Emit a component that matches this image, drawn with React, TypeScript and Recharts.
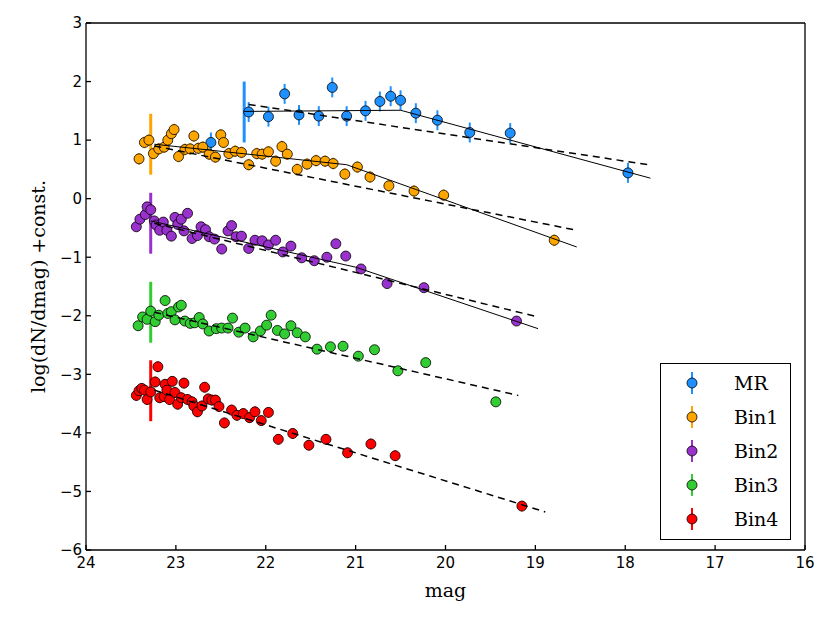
import { ComposedChart, Scatter, XAxis, YAxis, ErrorBar, Legend } from 'recharts';

// tick values
const magTicks = [16, 17, 18, 19, 20, 21, 22, 23, 24];
const logTicks = [-6, -5, -4, -3, -2, -1, 0, 1, 2, 3];

// measured counts, [mag, log(dN/dmag)+const]
const mrPoints = [
  [22.19, 1.48], [22.61, 0.96], [21.97, 1.4], [21.79, 1.79], [21.63, 1.43], [21.41, 1.41],
  [21.26, 1.9], [21.1, 1.41], [20.89, 1.5], [20.73, 1.66], [20.61, 1.75], [20.5, 1.68],
  [20.33, 1.46], [20.09, 1.34], [19.73, 1.13], [19.28, 1.12], [17.97, 0.44],
];
const bin1Points = [
  [23.41, 0.68], [23.35, 0.96], [23.3, 1.0], [23.25, 0.77], [23.19, 0.85], [23.13, 0.88],
  [23.09, 1.0], [23.05, 1.11], [23.02, 1.18], [22.97, 0.72], [22.9, 0.84], [22.84, 0.85],
  [22.8, 1.07], [22.75, 0.86], [22.7, 0.88], [22.63, 0.76], [22.56, 0.71], [22.5, 1.09],
  [22.47, 0.96], [22.41, 0.77], [22.34, 0.81], [22.27, 0.79], [22.19, 0.58], [22.1, 0.77],
  [22.04, 0.76], [21.97, 0.8], [21.89, 0.64], [21.82, 0.89], [21.76, 0.76], [21.65, 0.5],
  [21.54, 0.59], [21.44, 0.65], [21.34, 0.64], [21.25, 0.6], [21.12, 0.42], [20.98, 0.54],
  [20.84, 0.37], [20.63, 0.22], [20.35, 0.13], [20.02, 0.06], [18.79, -0.71],
];
const bin2Points = [
  [23.44, -0.48], [23.4, -0.35], [23.34, -0.27], [23.32, -0.14], [23.28, -0.19], [23.24, -0.38],
  [23.22, -0.45], [23.18, -0.54], [23.14, -0.4], [23.1, -0.54], [23.05, -0.64], [23.01, -0.32],
  [22.98, -0.44], [22.94, -0.35], [22.91, -0.55], [22.87, -0.25], [22.82, -0.68], [22.76, -0.63],
  [22.72, -0.48], [22.67, -0.53], [22.63, -0.65], [22.57, -0.69], [22.49, -0.86], [22.42, -0.55],
  [22.38, -0.46], [22.33, -0.65], [22.27, -0.64], [22.19, -0.85], [22.12, -0.71], [22.04, -0.72],
  [21.97, -0.79], [21.89, -0.71], [21.81, -0.91], [21.72, -0.81], [21.6, -1.01], [21.46, -1.06],
  [21.32, -1.0], [21.22, -0.77], [21.11, -0.98], [20.94, -1.2], [20.65, -1.45], [20.24, -1.52],
  [19.21, -2.09],
];
const bin3Points = [
  [23.42, -2.17], [23.37, -2.02], [23.32, -2.06], [23.28, -1.92], [23.23, -2.1], [23.19, -1.99],
  [23.12, -1.74], [23.09, -1.96], [23.05, -1.93], [23.01, -2.07], [22.97, -1.85], [22.94, -1.82],
  [22.9, -2.09], [22.84, -2.13], [22.79, -2.12], [22.74, -2.03], [22.7, -2.14], [22.63, -2.26],
  [22.55, -2.22], [22.49, -2.21], [22.42, -2.21], [22.37, -2.04], [22.3, -2.28], [22.23, -2.21],
  [22.14, -2.36], [22.06, -2.26], [21.99, -2.16], [21.94, -1.99], [21.87, -2.25], [21.79, -2.31],
  [21.72, -2.17], [21.65, -2.29], [21.56, -2.36], [21.43, -2.57], [21.28, -2.53], [21.14, -2.52],
  [20.97, -2.69], [20.79, -2.58], [20.53, -2.94], [20.22, -2.8], [19.44, -3.47],
];
const bin4Points = [
  [23.44, -3.36], [23.41, -3.28], [23.38, -3.24], [23.35, -3.27], [23.32, -3.43], [23.28, -3.3],
  [23.23, -3.13], [23.2, -2.87], [23.18, -3.4], [23.13, -3.38], [23.12, -3.17], [23.1, -3.27],
  [23.07, -3.43], [23.04, -3.12], [23.01, -3.31], [22.98, -3.51], [22.94, -3.4], [22.91, -3.15],
  [22.87, -3.43], [22.82, -3.47], [22.8, -3.54], [22.76, -3.64], [22.71, -3.54], [22.68, -3.22],
  [22.64, -3.42], [22.6, -3.44], [22.56, -3.44], [22.52, -3.55], [22.46, -3.83], [22.38, -3.61],
  [22.32, -3.7], [22.25, -3.67], [22.18, -3.74], [22.12, -3.64], [22.05, -3.79], [21.97, -3.65],
  [21.86, -4.11], [21.7, -4.01], [21.52, -4.21], [21.33, -4.11], [21.09, -4.34], [20.83, -4.19],
  [20.56, -4.39], [19.15, -5.25],
];

// per-series error (half length)
const mrErr = 0.17;
const bin1Err = 0.1;
const bin2Err = 0.08;
const bin3Err = 0.08;
const bin4Err = 0.09;

// turnover markers [mag, centre, half length]
const turnovers = [
  [22.24, 1.48, 0.52],
  [23.28, 0.93, 0.52],
  [23.28, -0.42, 0.52],
  [23.28, -1.94, 0.52],
  [23.28, -3.28, 0.52],
];

// model fits
const mrSolid = [[22.24, 1.49], [20.5, 1.51], [17.72, 0.35]];
const mrDashed = [[22.19, 1.61], [17.72, 0.575]];
const bin1Solid = [[23.24, 0.93], [21.1, 0.58], [18.54, -0.825]];
const bin1Dashed = [[23.24, 0.9], [18.54, -0.54]];
const bin2Solid = [[23.28, -0.38], [21.0, -1.17], [18.97, -2.22]];
const bin2Dashed = [[23.24, -0.42], [18.97, -2.02]];
const bin3Dashed = [[23.24, -1.94], [19.19, -3.36]];
const bin4Dashed = [[23.24, -3.27], [18.89, -5.35]];

const seriesNames = ['MR', 'Bin1', 'Bin2', 'Bin3', 'Bin4'];
const seriesColors = ['#1E90FF', '#FFA500', '#9932CC', '#32CD32', '#FF0000'];

const rows = (pts: number[][], e = 0) => pts.map(([x, y]) => ({ x, y, e }));
const fmt = (v: number) => (v < 0 ? '\u2212' + Math.abs(v) : String(v));

const dot = (color: string) => (p: any) => (
  <circle cx={p.cx} cy={p.cy} r={5} fill={color} stroke="#000" strokeWidth={0.8} />
);
const noDot = () => <g />;

const serif = 'DejaVu Serif, Liberation Serif, serif';
const sans = 'DejaVu Sans, sans-serif';

function LegendBox() {
  return (
    <div
      style={{
        position: 'relative', width: 131, height: 177, border: '1.3px solid #000',
        background: '#fff', boxSizing: 'border-box', fontFamily: serif, fontSize: 19,
      }}
    >
      {seriesNames.map((name, i) => (
        <div key={name} style={{ position: 'absolute', left: 0, top: 7 + i * 34, height: 24, display: 'flex', alignItems: 'center' }}>
          <svg width={73} height={24}>
            <line x1={31} x2={31} y1={1} y2={23} stroke={seriesColors[i]} strokeWidth={2} />
            <circle cx={31} cy={12} r={5} fill={seriesColors[i]} stroke="#000" strokeWidth={0.8} />
          </svg>
          <span style={{ lineHeight: '24px' }}>{name}</span>
        </div>
      ))}
    </div>
  );
}

const yTitle = (props: any) => {
  const vb = props.viewBox;
  const cx = 38;
  const cy = vb.y + vb.height / 2;
  return (
    <text x={cx} y={cy} transform={`rotate(-90 ${cx} ${cy})`} textAnchor="middle" dominantBaseline="central"
      fontFamily={serif} fontSize={19} fill="#000">
      log(dN/dmag) +const.
    </text>
  );
};

const xTitle = (props: any) => {
  const vb = props.viewBox;
  return (
    <text x={vb.x + vb.width / 2} y={597} textAnchor="middle" fontFamily={serif} fontSize={19} fill="#000">
      mag
    </text>
  );
};

const fits = [
  { data: mrSolid, dash: undefined },
  { data: mrDashed, dash: '7 5' },
  { data: bin1Solid, dash: undefined },
  { data: bin1Dashed, dash: '7 5' },
  { data: bin2Solid, dash: undefined },
  { data: bin2Dashed, dash: '7 5' },
  { data: bin3Dashed, dash: '7 5' },
  { data: bin4Dashed, dash: '7 5' },
];

const pointSets = [
  { data: mrPoints, err: mrErr },
  { data: bin1Points, err: bin1Err },
  { data: bin2Points, err: bin2Err },
  { data: bin3Points, err: bin3Err },
  { data: bin4Points, err: bin4Err },
];

export default function App() {
  const axisStroke = { stroke: '#000', strokeWidth: 1.3 };
  return (
    <div style={{ position: 'absolute', left: 0, top: 0, background: '#fff' }}>
      <ComposedChart width={830} height={623} margin={{ top: 22, right: 24, bottom: 23, left: 26 }}>
        <XAxis
          xAxisId={0} type="number" dataKey="x" domain={[16, 24]} ticks={magTicks} reversed allowDataOverflow
          tickSize={-5} tickMargin={12} axisLine={axisStroke} tickLine={axisStroke} height={50}
          tick={{ fill: '#000', fontFamily: sans, fontSize: 15 }}
          label={{ value: 'mag', content: xTitle }}
        />
        <XAxis
          xAxisId="top" orientation="top" type="number" dataKey="x" domain={[16, 24]} ticks={magTicks} reversed allowDataOverflow
          tickSize={-5} axisLine={axisStroke} tickLine={axisStroke} height={1} tick={false}
        />
        <YAxis
          yAxisId={0} type="number" dataKey="y" domain={[-6, 3]} ticks={logTicks} allowDataOverflow
          tickSize={-5} tickMargin={9} axisLine={axisStroke} tickLine={axisStroke} width={60}
          tickFormatter={fmt} tick={{ fill: '#000', fontFamily: sans, fontSize: 15 }}
          label={{ value: 'log(dN/dmag) +const.', content: yTitle }}
        />
        <YAxis
          yAxisId="r" orientation="right" type="number" dataKey="y" domain={[-6, 3]} ticks={logTicks} allowDataOverflow
          tickSize={-5} axisLine={axisStroke} tickLine={axisStroke} width={1} tick={false}
        />
        {pointSets.map((s, i) => (
          <Scatter key={seriesNames[i]} name={seriesNames[i]} data={rows(s.data, s.err)} shape={dot(seriesColors[i])}
            isAnimationActive={false} legendType="none">
            <ErrorBar dataKey="e" direction="y" width={0} stroke={seriesColors[i]} strokeWidth={2} isAnimationActive={false} />
          </Scatter>
        ))}
        {turnovers.map(([x, y, e], i) => (
          <Scatter key={'t' + i} data={[{ x, y, e }]} shape={noDot} isAnimationActive={false} legendType="none"
            xAxisId="top" yAxisId="r">
            <ErrorBar dataKey="e" direction="y" width={0} stroke={seriesColors[i]} strokeWidth={3} isAnimationActive={false} />
          </Scatter>
        ))}
        {fits.map((f, i) => (
          <Scatter key={'f' + i} data={rows(f.data)} shape={noDot} isAnimationActive={false} legendType="none"
            line={{ stroke: '#000', strokeWidth: f.dash ? 1.5 : 1, strokeDasharray: f.dash }} />
        ))}
        <Legend layout="vertical" align="center" verticalAlign="middle" content={<LegendBox />}
          wrapperStyle={{ left: 660, top: 363, width: 131, height: 177 }} />
      </ComposedChart>
    </div>
  );
}
